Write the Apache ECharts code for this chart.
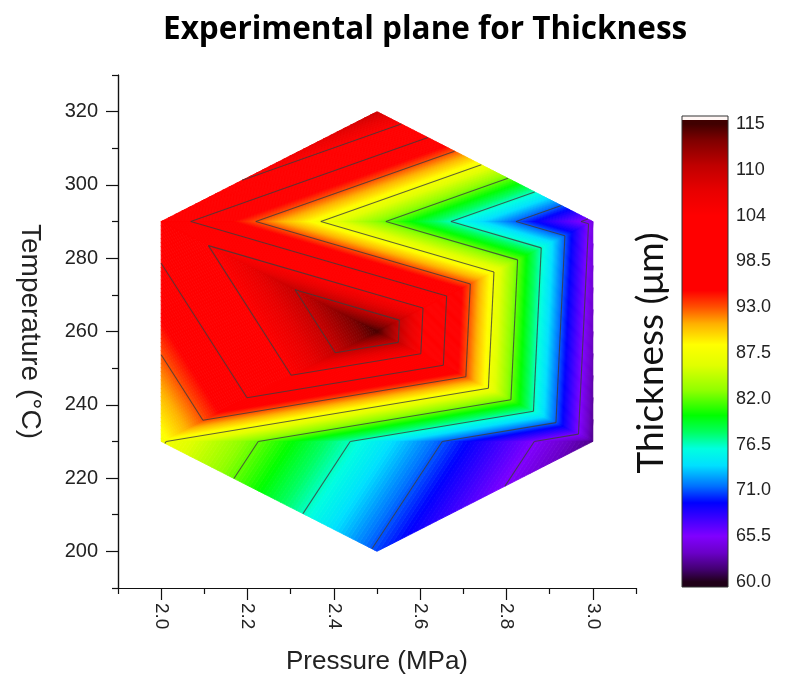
<!DOCTYPE html>
<html>
<head>
<meta charset="utf-8">
<title>Experimental plane for Thickness</title>
<script src="https://cdn.jsdelivr.net/npm/echarts@6/dist/echarts.min.js"></script>
<style>
  html, body { margin: 0; padding: 0; background: #fff; }
  #main { width: 791px; height: 690px; }
</style>
</head>
<body>
<div id="main"></div>
<script>
// Doehlert design points (pressure, temperature) and measured thickness
var pressure    = [2.5, 2.0, 3.0, 2.5, 2.0, 3.0, 2.5];
var temperature = [320, 290, 290, 260, 230, 230, 200];
var thickness   = [109.0, 101.0, 64.5, 114.7, 87.8, 62.0, 70.6];

// axis ticks
var xMajor = [2.0, 2.2, 2.4, 2.6, 2.8, 3.0];
var xMinor = [1.9, 2.1, 2.3, 2.5, 2.7, 2.9, 3.1];
var yMajor = [200, 220, 240, 260, 280, 300, 320];
var yMinor = [190, 210, 230, 250, 270, 290, 310, 330];

// colour scale levels + labels
var levels = [60, 65.5, 71, 76.5, 82, 87.5, 93, 98.5, 104, 109.5, 115];
var levelLabels = ['60.0', '65.5', '71.0', '76.5', '82.0', '87.5', '93.0', '98.5', '104', '110', '115'];

// colour map stops
var cmapVals = [60, 61.5, 63.5, 65.5, 67.5, 69.5, 71.5, 74, 76, 78, 80, 83, 86, 88.5, 91, 93, 95, 104, 107, 110, 113, 115];
var cmapCols = ['#200018', '#420070', '#6a00c8', '#8000ff', '#4000ff', '#0000ff', '#0070ff', '#00e0ff', '#00ffe0',
                '#00ff60', '#00ff00', '#90ff00', '#e0ff00', '#ffff00', '#ffb000', '#ff5000', '#ff0000', '#ff0000',
                '#e80000', '#c00000', '#800000', '#400000'];

function hexRgb(h) {
  return [parseInt(h.substr(1, 2), 16), parseInt(h.substr(3, 2), 16), parseInt(h.substr(5, 2), 16)];
}
var cmapRgb = cmapCols.map(hexRgb);

function colourAt(v) {
  if (v <= cmapVals[0]) return cmapCols[0];
  for (var i = 1; i < cmapVals.length; i++) {
    if (v <= cmapVals[i]) {
      var t = (v - cmapVals[i - 1]) / (cmapVals[i] - cmapVals[i - 1]);
      var a = cmapRgb[i - 1], b = cmapRgb[i];
      return 'rgb(' + Math.round(a[0] + t * (b[0] - a[0])) + ',' +
        Math.round(a[1] + t * (b[1] - a[1])) + ',' + Math.round(a[2] + t * (b[2] - a[2])) + ')';
    }
  }
  return cmapCols[cmapCols.length - 1];
}

// brute force delaunay in raw data units (7 points only)
function delaunay(xs, ys) {
  var n = xs.length, out = [];
  for (var i = 0; i < n; i++) for (var j = i + 1; j < n; j++) for (var k = j + 1; k < n; k++) {
    var ax = xs[i], ay = ys[i], bx = xs[j], by = ys[j], cx = xs[k], cy = ys[k];
    var d = 2 * (ax * (by - cy) + bx * (cy - ay) + cx * (ay - by));
    if (Math.abs(d) < 1e-9) continue;
    var a2 = ax * ax + ay * ay, b2 = bx * bx + by * by, c2 = cx * cx + cy * cy;
    var ux = (a2 * (by - cy) + b2 * (cy - ay) + c2 * (ay - by)) / d;
    var uy = (a2 * (cx - bx) + b2 * (ax - cx) + c2 * (bx - ax)) / d;
    var r2 = (ax - ux) * (ax - ux) + (ay - uy) * (ay - uy);
    var empty = true;
    for (var m = 0; m < n; m++) {
      if (m === i || m === j || m === k) continue;
      var dd = (xs[m] - ux) * (xs[m] - ux) + (ys[m] - uy) * (ys[m] - uy);
      if (dd < r2 * (1 - 1e-9)) { empty = false; break; }
    }
    if (empty) out.push([i, j, k]);
  }
  return out;
}
var tris = delaunay(pressure, temperature);

// keep the part of polygon where value >= level (above) or <= level
function clipPoly(poly, level, above) {
  var out = [];
  for (var i = 0; i < poly.length; i++) {
    var a = poly[i], b = poly[(i + 1) % poly.length];
    var ain = above ? a[2] >= level : a[2] <= level;
    var bin = above ? b[2] >= level : b[2] <= level;
    if (ain) out.push(a);
    if (ain !== bin) {
      var t = (level - a[2]) / (b[2] - a[2]);
      out.push([a[0] + t * (b[0] - a[0]), a[1] + t * (b[1] - a[1]), level]);
    }
  }
  return out;
}

function isoSeg(pts, L) {
  var seg = [];
  for (var i = 0; i < 3; i++) {
    var a = pts[i], b = pts[(i + 1) % 3];
    if ((a[2] < L) !== (b[2] < L)) {
      var t = (L - a[2]) / (b[2] - a[2]);
      seg.push([a[0] + t * (b[0] - a[0]), a[1] + t * (b[1] - a[1])]);
    }
  }
  return seg.length === 2 ? seg : null;
}

var bandStep = 0.25;
var lineLevels = levels.slice(1, levels.length - 1);

function renderTri(params, api) {
  var t = tris[params.dataIndex];
  var pts = t.map(function (k) {
    var c = api.coord([pressure[k], temperature[k]]);
    return [c[0], c[1], thickness[k]];
  });
  var children = [];
  for (var lo = levels[0]; lo < levels[levels.length - 1]; lo += bandStep) {
    var poly = clipPoly(clipPoly(pts, lo, true), lo + bandStep, false);
    if (poly.length < 3) continue;
    var col = colourAt(lo + bandStep / 2);
    children.push({
      type: 'polygon', z2: 1,
      shape: { points: poly.map(function (p) { return [p[0], p[1]]; }) },
      style: { fill: col, stroke: col, lineWidth: 0.8 }
    });
  }
  lineLevels.forEach(function (L) {
    var seg = isoSeg(pts, L);
    if (!seg) return;
    children.push({
      type: 'polyline', z2: 10,
      shape: { points: seg },
      style: { stroke: 'rgba(60,60,60,0.8)', lineWidth: 1.1, fill: null }
    });
  });
  return { type: 'group', children: children };
}

function renderBar(params, api) {
  var pb = api.coord([0, levels[0]]);
  var pt = api.coord([1, levels[levels.length - 1]]);
  var x0 = pb[0], x1 = pt[0];
  var yb = pb[1] + 5, yt = pt[1] - 4;
  var stops = [{ offset: 0, color: cmapCols[0] }];
  cmapVals.forEach(function (v, i) {
    var y = api.coord([0, v])[1];
    stops.push({ offset: (yb - y) / (yb - yt), color: cmapCols[i] });
  });
  stops.push({ offset: 1, color: cmapCols[cmapCols.length - 1] });
  return {
    type: 'group',
    children: [
      { type: 'rect', shape: { x: x0, y: yt, width: x1 - x0, height: yb - yt },
        style: { fill: { type: 'linear', x: 0, y: 1, x2: 0, y2: 0, colorStops: stops } } },
      { type: 'rect', shape: { x: x0, y: yt - 4, width: x1 - x0, height: 4 },
        style: { fill: '#fff6f4' } },
      { type: 'rect', shape: { x: x0, y: yt - 4, width: x1 - x0, height: yb - yt + 4 },
        style: { fill: null, stroke: '#333', lineWidth: 1 } }
    ]
  };
}

var axisFont = 'Liberation Sans, Arial, sans-serif';

var chart = echarts.init(document.getElementById('main'));
chart.setOption({
  animation: false,
  backgroundColor: '#fff',
  title: {
    text: 'Experimental plane for Thickness',
    left: 158, top: 9,
    textStyle: { fontFamily: 'Open Sans', fontWeight: 'bold', fontSize: 31.5, color: '#000' }
  },
  grid: [
    { left: 118, top: 75, width: 518, height: 513 },
    { left: 682, top: 124, width: 46, height: 458 }
  ],
  xAxis: [
    {
      type: 'value', gridIndex: 0, min: 1.9, max: 3.1, position: 'bottom',
      name: 'Pressure (MPa)', nameLocation: 'middle', nameGap: 61,
      nameTextStyle: { fontFamily: axisFont, fontSize: 26, color: '#222' },
      splitLine: { show: false },
      axisLine: { lineStyle: { color: '#111', width: 1.2 } },
      axisTick: { customValues: xMajor, length: 12, lineStyle: { color: '#111', width: 1.2 } },
      axisLabel: {
        customValues: xMajor, rotate: -90, margin: 15,
        fontFamily: axisFont, fontSize: 19, color: '#222',
        formatter: function (v) { return v.toFixed(1); }
      }
    },
    {
      type: 'value', gridIndex: 0, min: 1.9, max: 3.1, position: 'bottom',
      splitLine: { show: false },
      axisLine: { lineStyle: { color: '#111', width: 1.2 } },
      axisTick: { customValues: xMinor, length: 6, lineStyle: { color: '#111', width: 1.2 } },
      axisLabel: { show: false }
    },
    { type: 'value', gridIndex: 1, min: 0, max: 1, show: false }
  ],
  yAxis: [
    {
      type: 'value', gridIndex: 0, min: 190, max: 330, position: 'left',
      name: 'Temperature (°C)', nameLocation: 'middle', nameGap: 74, nameRotate: -90,
      nameTextStyle: { fontFamily: axisFont, fontSize: 28, color: '#222' },
      splitLine: { show: false },
      axisLine: { lineStyle: { color: '#111', width: 1.2 } },
      axisTick: { customValues: yMajor, length: 12, lineStyle: { color: '#111', width: 1.2 } },
      axisLabel: { customValues: yMajor, margin: 20, fontFamily: axisFont, fontSize: 20, color: '#222' }
    },
    {
      type: 'value', gridIndex: 0, min: 190, max: 330, position: 'left',
      splitLine: { show: false },
      axisLine: { lineStyle: { color: '#111', width: 1.2 } },
      axisTick: { customValues: yMinor, length: 6, lineStyle: { color: '#111', width: 1.2 } },
      axisLabel: { show: false }
    },
    {
      type: 'value', gridIndex: 1, min: 60, max: 115, position: 'right',
      splitLine: { show: false },
      axisLine: { show: false },
      axisTick: { customValues: levels, length: 5, lineStyle: { color: '#333' } },
      axisLabel: {
        customValues: levels, margin: 8, fontFamily: axisFont, fontSize: 18, color: '#222',
        formatter: function (v) {
          var best = 0;
          levels.forEach(function (l, i) { if (Math.abs(l - v) < Math.abs(levels[best] - v)) best = i; });
          return levelLabels[best];
        }
      }
    },
    {
      type: 'value', gridIndex: 1, min: 60, max: 115, position: 'left',
      name: 'Thickness (μm)', nameLocation: 'middle', nameGap: 12, nameRotate: 90,
      nameTextStyle: { fontFamily: 'Lato', fontSize: 37, color: '#111' },
      splitLine: { show: false }, axisLine: { show: false },
      axisTick: { show: false }, axisLabel: { show: false }
    }
  ],
  series: [
    {
      type: 'custom', xAxisIndex: 0, yAxisIndex: 0, silent: true,
      renderItem: renderTri,
      data: tris.map(function (t) {
        return [(pressure[t[0]] + pressure[t[1]] + pressure[t[2]]) / 3,
                (temperature[t[0]] + temperature[t[1]] + temperature[t[2]]) / 3];
      })
    },
    {
      type: 'custom', xAxisIndex: 2, yAxisIndex: 2, silent: true,
      renderItem: renderBar,
      data: [[0.5, 87.5]]
    }
  ]
});
</script>
</body>
</html>
